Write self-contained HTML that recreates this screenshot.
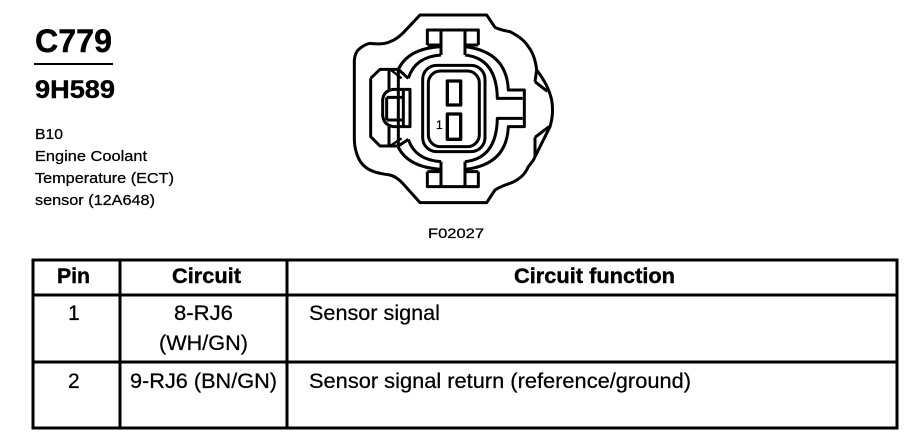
<!DOCTYPE html>
<html><head><meta charset="utf-8"><style>
html,body{margin:0;padding:0;background:#fff;width:906px;height:448px;overflow:hidden}
svg{display:block}
text{font-family:"Liberation Sans",sans-serif;fill:#000;stroke:#000;stroke-width:.25px}
.b{font-weight:bold;stroke-width:.4px}
</style></head><body>
<svg width="906" height="448" viewBox="0 0 906 448" xmlns="http://www.w3.org/2000/svg">
<rect width="906" height="448" fill="#fff"/>
<text class="b" x="35" y="52" font-size="32" textLength="77" lengthAdjust="spacingAndGlyphs">C779</text>
<rect x="34" y="63" width="79" height="2"/>
<text class="b" x="35" y="98" font-size="25" textLength="80" lengthAdjust="spacingAndGlyphs">9H589</text>
<text x="35" y="139" font-size="15" textLength="28" lengthAdjust="spacingAndGlyphs">B10</text>
<text x="35" y="161" font-size="15" textLength="112" lengthAdjust="spacingAndGlyphs">Engine Coolant</text>
<text x="35" y="183" font-size="15" textLength="139" lengthAdjust="spacingAndGlyphs">Temperature (ECT)</text>
<text x="35" y="205" font-size="15" textLength="120" lengthAdjust="spacingAndGlyphs">sensor (12A648)</text>
<text x="428" y="238" font-size="14" textLength="56" lengthAdjust="spacingAndGlyphs">F02027</text>

<g transform="translate(340,10) scale(0.33333)" fill="none" stroke="#000" stroke-width="9" stroke-linejoin="round">
<path d="M585 215L590 180Q585 135 565 110Q550 85 510 65Q480 60 465 52L440 15L240 15L190 68Q170 88 150 95Q130 105 90 100Q75 103 60 115Q45 125 43 150L43 385Q43 410 50 430Q60 465 90 480Q110 490 150 495Q170 500 190 522L240 578L440 578L465 540Q480 530 510 520Q550 505 565 470Q582 450 585 440L585 382"/>
<path d="M590 180Q625 225 635 270Q642 310 630 350L585 440"/>
<path d="M585 215L622 244M585 382L627 350"/>
<path d="M262 105L262 60L415 60L415 105"/>
<path d="M262 105L303 105M375 105L415 105"/>
<path d="M303 60L303 135M375 60L375 135"/>
<path d="M262 485L262 530L415 530L415 485"/>
<path d="M262 485L303 485M375 485L415 485"/>
<path d="M303 530L303 455M375 530L375 455"/>
<path d="M303 110Q205 115 175 178"/>
<path d="M303 135Q225 140 205 205"/>
<path d="M303 478Q205 472 175 412"/>
<path d="M303 455Q225 450 205 388"/>
<path d="M375 110Q500 125 505 240L553 240L553 350L505 350Q500 465 375 478"/>
<path d="M375 135Q470 145 472 265L548 265M548 325L472 325Q470 445 375 455"/>
<rect x="248" y="166" width="187" height="259" rx="42"/>
<rect x="265" y="183" width="153" height="227" rx="36"/>
<rect x="322" y="213" width="40" height="72" stroke-width="10"/>
<rect x="322" y="312" width="40" height="76" stroke-width="10"/>
<path d="M92 205L120 178L175 178L205 205M92 205L92 380L120 408L175 408L205 388"/>
<path d="M147 178L147 238M147 350L147 408M175 178L175 408M190 238L190 350"/>
<path d="M160 238L210 238L210 350L160 350Q130 345 128 315L128 270Q130 242 160 238Z"/>
<path d="M140 262L190 262M140 330L190 330M140 262L140 330"/>
<path d="M150 178L185 205M150 408L185 385" stroke-width="7"/>
</g>
<text x="436" y="129" font-size="12">1</text>

<g fill="none" stroke="#000" stroke-width="3">
<rect x="33" y="260" width="864" height="168"/>
<path d="M33 295L897 295M33 362L897 362M120 260L120 428M287 260L287 428"/>
</g>
<text class="b" x="57" y="283" font-size="21" textLength="33" lengthAdjust="spacingAndGlyphs">Pin</text>
<text class="b" x="172" y="283" font-size="21" textLength="69" lengthAdjust="spacingAndGlyphs">Circuit</text>
<text class="b" x="514" y="283" font-size="21" textLength="161" lengthAdjust="spacingAndGlyphs">Circuit function</text>
<text x="68" y="320" font-size="21">1</text>
<text x="174" y="320" font-size="21" textLength="59" lengthAdjust="spacingAndGlyphs">8-RJ6</text>
<text x="159" y="350" font-size="21" textLength="89" lengthAdjust="spacingAndGlyphs">(WH/GN)</text>
<text x="309" y="320" font-size="21" textLength="131" lengthAdjust="spacingAndGlyphs">Sensor signal</text>
<text x="68" y="388" font-size="21">2</text>
<text x="130" y="388" font-size="21" textLength="147" lengthAdjust="spacingAndGlyphs">9-RJ6 (BN/GN)</text>
<text x="309" y="388" font-size="21" textLength="382" lengthAdjust="spacingAndGlyphs">Sensor signal return (reference/ground)</text>
</svg>
</body></html>
